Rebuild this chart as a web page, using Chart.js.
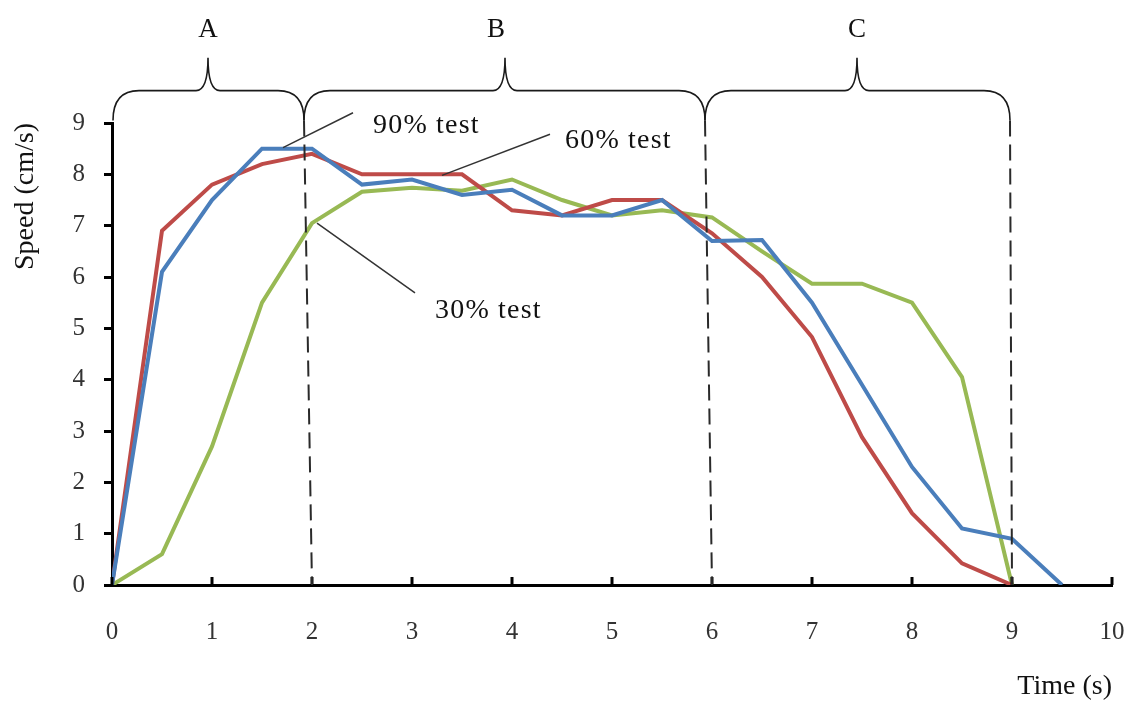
<!DOCTYPE html>
<html>
<head>
<meta charset="utf-8">
<script src="https://cdn.jsdelivr.net/npm/chart.js@4/dist/chart.umd.min.js"></script>
<style>
html,body{margin:0;padding:0;background:#fff;}
#wrap{width:1130px;height:703px;position:relative;}
</style>
</head>
<body>
<div id="wrap"><canvas id="c" width="1130" height="703"></canvas></div>
<script>
// ---- data ----
const times = [0,0.5,1,1.5,2,2.5,3,3.5,4,4.5,5,5.5,6,6.5,7,7.5,8,8.5,9,9.5];
const speed90 = [0,6.1,7.5,8.5,8.5,7.8,7.9,7.6,7.7,7.2,7.2,7.5,6.7,6.72,5.5,3.9,2.3,1.1,0.9,0];
const speed60 = [0,6.9,7.8,8.2,8.4,8.0,8.0,8.0,7.3,7.2,7.5,7.5,6.85,6.0,4.83,2.88,1.4,0.42,0];
const speed30 = [0,0.6,2.7,5.5,7.05,7.66,7.74,7.68,7.9,7.5,7.2,7.3,7.16,6.5,5.87,5.87,5.5,4.05,0];
const seriesNames = ['90% test','60% test','30% test'];
const phaseNames = ['A','B','C'];
const phaseBounds = [[0.01,1.92,0.96],[1.92,5.93,3.93],[5.93,8.98,7.45]];
const phaseEnds = [2,6,9];
const xTitle = 'Time (s)';
const yTitle = 'Speed (cm/s)';

const toPts = arr => arr.map((v,i)=>({x:times[i], y:v}));
const SERIF = "'Liberation Serif','Times New Roman',serif";

const annot = {
  id:'annot',
  afterDraw(chart){
    const {ctx, scales:{x,y}} = chart;
    const X = v=>x.getPixelForValue(v), Y = v=>y.getPixelForValue(v);
    ctx.save();
    // inward x ticks
    ctx.strokeStyle = '#000'; ctx.lineWidth = 3;
    x.ticks.forEach(t=>{
      const px = X(t.value);
      ctx.beginPath(); ctx.moveTo(px, Y(0)); ctx.lineTo(px, Y(0)-8); ctx.stroke();
    });
    // dashed phase boundaries
    ctx.strokeStyle = '#2a2a2a'; ctx.lineWidth = 2; ctx.setLineDash([16,8]);
    phaseBounds.forEach((b,i)=>{
      ctx.beginPath(); ctx.moveTo(X(b[1]), Y(9.05)); ctx.lineTo(X(phaseEnds[i]), Y(0)); ctx.stroke();
    });
    ctx.setLineDash([]);
    // braces
    ctx.strokeStyle = '#1a1a1a'; ctx.lineWidth = 1.6;
    const yEnd = Y(9.05), yBar = Y(9.63), yTip = Y(10.27);
    phaseBounds.forEach(b=>{
      const x1 = X(b[0]), x2 = X(b[1]), xt = X(b[2]);
      const r = 26, r2 = 12;
      ctx.beginPath();
      ctx.moveTo(x1, yEnd);
      ctx.quadraticCurveTo(x1, yBar, x1 + r, yBar);
      ctx.lineTo(xt - r2, yBar);
      ctx.quadraticCurveTo(xt, yBar, xt, yTip);
      ctx.quadraticCurveTo(xt, yBar, xt + r2, yBar);
      ctx.lineTo(x2 - r, yBar);
      ctx.quadraticCurveTo(x2, yBar, x2, yEnd);
      ctx.stroke();
    });
    // phase letters
    ctx.fillStyle = '#111'; ctx.font = '27px ' + SERIF;
    ctx.textAlign = 'center'; ctx.textBaseline = 'middle';
    const letterX = [0.96, 3.84, 7.45];
    phaseNames.forEach((n,i)=>{ ctx.fillText(n, X(letterX[i]), 30); });
    // leader lines
    ctx.strokeStyle = '#333'; ctx.lineWidth = 1.5;
    const leaders = [[1.71,8.52,2.41,9.2],[3.30,7.98,4.38,8.78],[2.05,7.05,3.03,5.69]];
    leaders.forEach(l=>{ ctx.beginPath(); ctx.moveTo(X(l[0]),Y(l[1])); ctx.lineTo(X(l[2]),Y(l[3])); ctx.stroke(); });
    // labels
    const labelPos = [[2.61,8.81],[4.53,8.52],[3.23,5.2]];
    ctx.font = '28px ' + SERIF; ctx.textAlign = 'left'; ctx.textBaseline = 'alphabetic';
    try { ctx.letterSpacing = '1.2px'; } catch(e){}
    seriesNames.forEach((n,i)=>{ ctx.fillText(n, X(labelPos[i][0]), Y(labelPos[i][1])); });
    ctx.restore();
  }
};

new Chart(document.getElementById('c'), {
  type:'line',
  data:{
    datasets:[
      {label:seriesNames[0], data:toPts(speed90), borderColor:'#4A7EBB', borderWidth:4, pointRadius:0, tension:0, fill:false},
      {label:seriesNames[1], data:toPts(speed60), borderColor:'#BE4B48', borderWidth:4, pointRadius:0, tension:0, fill:false},
      {label:seriesNames[2], data:toPts(speed30), borderColor:'#98B954', borderWidth:4, pointRadius:0, tension:0, fill:false}
    ]
  },
  options:{
    responsive:false,
    animation:false,
    events:[],
    layout:{padding:{top:123,right:18,left:0,bottom:0}},
    plugins:{legend:{display:false}, tooltip:{enabled:false}},
    scales:{
      x:{
        type:'linear', min:0, max:10,
        grid:{display:false, drawTicks:false},
        border:{display:true, color:'#000', width:3},
        ticks:{stepSize:1, padding:32, color:'#333', font:{family:SERIF, size:25}, maxRotation:0, autoSkip:false},
        title:{display:true, text:xTitle, align:'end', color:'#111', font:{family:SERIF, size:28}, padding:{top:0,bottom:0}},
        afterFit(s){ s.height = 118; s.paddingLeft = 0; s.paddingRight = 0; }
      },
      y:{
        min:0, max:9,
        grid:{drawOnChartArea:false, drawTicks:true, tickLength:8, tickWidth:3, color:'#000'},
        border:{display:true, color:'#000', width:3},
        ticks:{stepSize:1, padding:19, color:'#333', font:{family:SERIF, size:25}},
        title:{display:true, text:yTitle, align:'end', color:'#111', font:{family:SERIF, size:28}, padding:{top:9,bottom:0}},
        afterFit(s){ s.width = 112; s.paddingTop = 0; s.paddingBottom = 0; }
      }
    }
  },
  plugins:[annot]
});
</script>
</body>
</html>
